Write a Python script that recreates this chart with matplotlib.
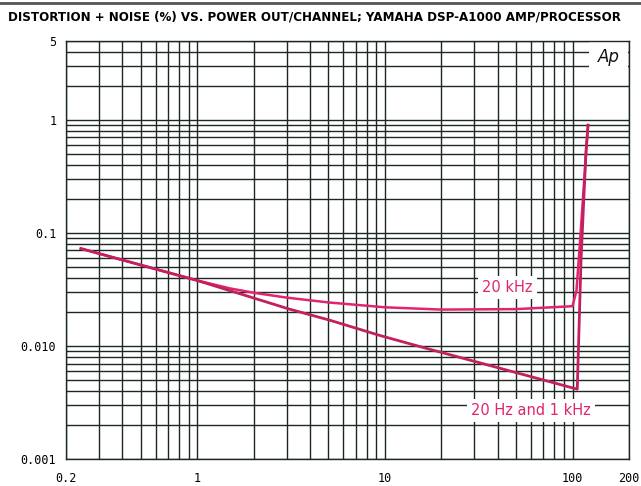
import matplotlib
matplotlib.use("Agg")
import matplotlib.pyplot as plt
from matplotlib.patches import Rectangle
from matplotlib.lines import Line2D
from matplotlib.ticker import FixedLocator, LogLocator, NullFormatter

# power out per channel (W) vs THD+N (%)
khz20_power = [0.24, 1.0, 1.5, 2.0, 3.0, 5.0, 10, 20, 50, 100, 105, 110, 118, 121]
khz20_thd = [0.0728, 0.038, 0.0323, 0.0296, 0.0268, 0.0243, 0.0220, 0.0210, 0.0212, 0.0225,
             0.031, 0.09, 0.5, 0.9]

low_power = [0.24, 1.0, 3.1, 5.1, 9.4, 16, 106, 111, 118, 121]
low_thd = [0.0728, 0.038, 0.0212, 0.0169, 0.0124, 0.0097, 0.00415, 0.057, 0.53, 0.9]

x_ticks = [0.2, 1, 10, 100, 200]
x_labels = ["0.2", "1", "10", "100", "200"]
y_ticks = [0.001, 0.01, 0.1, 1, 5]
y_labels = ["0.001", "0.010", "0.1", "1", "5"]

title = "DISTORTION + NOISE (%) VS. POWER OUT/CHANNEL; YAMAHA DSP-A1000 AMP/PROCESSOR"

pink = "#e0246f"
gridc = "#1c2822"

fig = plt.figure(figsize=(6.41, 4.86), dpi=100)
ax = fig.add_axes([66 / 641, 1 - 459 / 486, 563 / 641, 418 / 486])
ax.set_xscale("log")
ax.set_yscale("log")
ax.set_xlim(0.2, 200)
ax.set_ylim(0.001, 5)

ax.xaxis.set_major_locator(FixedLocator(x_ticks))
ax.set_xticklabels(x_labels)
ax.xaxis.set_minor_locator(LogLocator(base=10, subs=range(2, 10)))
ax.xaxis.set_minor_formatter(NullFormatter())
ax.yaxis.set_major_locator(FixedLocator(y_ticks))
ax.set_yticklabels(y_labels)
ax.yaxis.set_minor_locator(LogLocator(base=10, subs=range(2, 10)))
ax.yaxis.set_minor_formatter(NullFormatter())

ax.grid(True, which="both", color=gridc, lw=1.0)
ax.set_axisbelow(True)
ax.tick_params(which="both", length=0)
ax.tick_params(axis="y", pad=7, labelsize=8.5)
ax.tick_params(axis="x", pad=9, labelsize=8.5)
for lab in ax.get_xticklabels() + ax.get_yticklabels():
    lab.set_family("DejaVu Sans Mono")
for s in ax.spines.values():
    s.set_color(gridc)
    s.set_linewidth(1.0)

ax.plot(khz20_power, khz20_thd, color=pink, lw=1.8, zorder=3)
ax.plot(low_power, low_thd, color="#c2205e", lw=2.0, zorder=3)

ax.text(45, 0.033, "20 kHz", color=pink, fontsize=10.5, ha="center", va="center",
        bbox=dict(facecolor="white", edgecolor="none", pad=3), zorder=4)
ax.text(60, 0.0027, "20 Hz and 1 kHz", color=pink, fontsize=10.5, ha="center", va="center",
        bbox=dict(facecolor="white", edgecolor="none", pad=3), zorder=4)

# white patch behind the Ap logo
ax.add_patch(Rectangle((0.929, 0.919), 0.069, 0.079, transform=ax.transAxes,
                       facecolor="white", edgecolor="none", zorder=2))
ax.text(0.965, 0.962, "Ap", transform=ax.transAxes, fontsize=12, style="italic",
        ha="center", va="center", color="#111111", zorder=5)

fig.text(8 / 641, 1 - 17 / 486, title, fontsize=8.55, fontweight="bold",
         family="DejaVu Sans", ha="left", va="center")
fig.add_artist(Line2D([0, 1], [1 - 3 / 486, 1 - 3 / 486], color="#555555", lw=2))

fig.savefig("out.png", dpi=100)
